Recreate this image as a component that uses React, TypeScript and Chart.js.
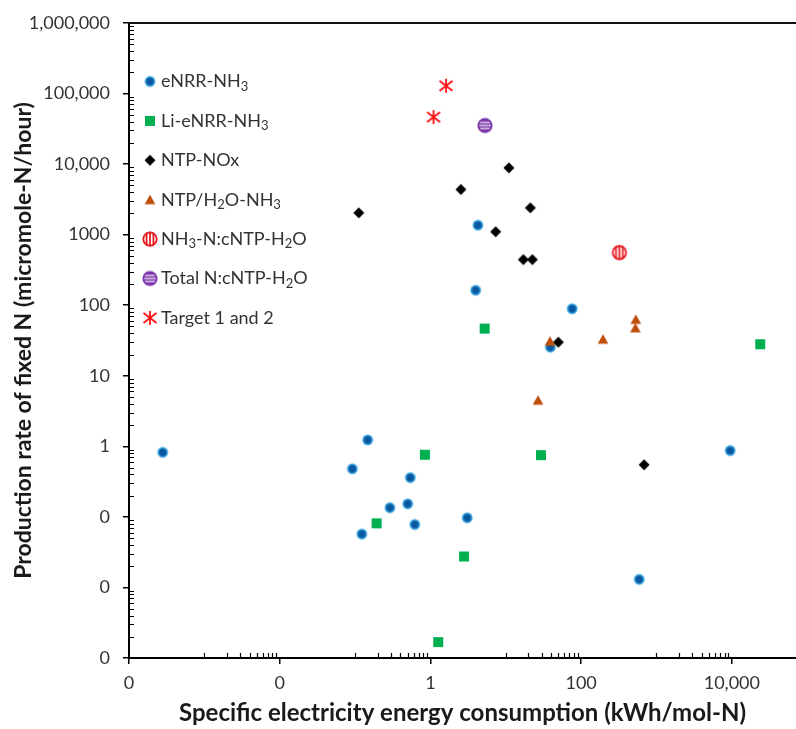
import React, { useEffect, useRef } from 'react';
import { Chart, registerables } from 'chart.js';

Chart.register(...registerables);

// ---------- axis ticks ----------
const xTickValues = [1e-4, 1e-2, 1, 100, 1e4];
const xTickLabels = ['0', '0', '1', '100', '10,000'];
const yTickValues = [1e-3, 1e-2, 1e-1, 1, 10, 100, 1000, 1e4, 1e5, 1e6];
const yTickLabels = ['0', '0', '0', '1', '10', '100', '1000', '10,000', '100,000', '1,000,000'];
const xMinorDecades = [-3, -1, 1, 3];
const yMinorDecades = [-3, -2, -1, 0, 1, 2, 3, 4, 5];

const xTitle = 'Specific electricity energy consumption (kWh/mol-N)';
const yTitle = 'Production rate of fixed N (micromole-N/hour)';

// ---------- series ----------
const seriesNames = [
  'eNRR-NH₃',
  'Li-eNRR-NH₃',
  'NTP-NOx',
  'NTP/H₂O-NH₃',
  'NH₃-N:cNTP-H₂O',
  'Total N:cNTP-H₂O',
  'Target 1 and 2',
];

const eNRRx = [0.00028, 0.147, 0.092, 0.54, 0.29, 0.5, 0.123, 0.62, 3.08, 4.27, 3.98, 76, 39, 9500, 590];
const eNRRy = [0.82, 1.23, 0.48, 0.36, 0.135, 0.153, 0.057, 0.078, 0.097, 1360, 163, 89, 25.4, 0.87, 0.013];

const liX = [0.845, 0.193, 2.79, 1.27, 5.24, 29.3, 23800];
const liY = [0.76, 0.081, 0.0275, 0.00168, 46.6, 0.75, 28];

const noxX = [0.112, 2.54, 11.0, 7.34, 21.2, 17.1, 22.5, 49.8, 684];
const noxY = [2040, 4370, 8850, 1100, 2400, 443, 443, 29.9, 0.548];

const h2oX = [38.6, 195, 531, 525, 26.8];
const h2oY = [30.9, 33, 63, 47.7, 4.5];

const nh3X = [322];
const nh3Y = [557];

const totX = [5.29];
const totY = [35300];

const tgtX = [1.61, 1.1];
const tgtY = [128800, 46400];

const seriesX = [eNRRx, liX, noxX, h2oX, nh3X, totX, tgtX];
const seriesY = [eNRRy, liY, noxY, h2oY, nh3Y, totY, tgtY];
const markerKinds = ['circle', 'square', 'diamond', 'triangle', 'vstripe', 'hstripe', 'asterisk'];

const FONT = "Lato, 'Open Sans', sans-serif";

function makeMarker(kind: string): HTMLCanvasElement {
  const s = 22;
  const c = s / 2;
  const cv = document.createElement('canvas');
  cv.width = s;
  cv.height = s;
  const ctx = cv.getContext('2d')!;
  if (kind === 'circle') {
    ctx.fillStyle = '#3BA4DE';
    ctx.beginPath();
    ctx.arc(c, c, 5.4, 0, Math.PI * 2);
    ctx.fill();
    ctx.fillStyle = '#0A58A0';
    ctx.beginPath();
    ctx.arc(c, c, 3.7, 0, Math.PI * 2);
    ctx.fill();
  } else if (kind === 'square') {
    ctx.fillStyle = '#00B050';
    ctx.fillRect(c - 5, c - 5, 10, 10);
  } else if (kind === 'diamond') {
    ctx.fillStyle = '#000';
    ctx.beginPath();
    ctx.moveTo(c, c - 5.5);
    ctx.lineTo(c + 5.5, c);
    ctx.lineTo(c, c + 5.5);
    ctx.lineTo(c - 5.5, c);
    ctx.closePath();
    ctx.fill();
  } else if (kind === 'triangle') {
    ctx.fillStyle = '#BF4E0C';
    ctx.beginPath();
    ctx.moveTo(c, c - 5);
    ctx.lineTo(c + 5.3, c + 4.5);
    ctx.lineTo(c - 5.3, c + 4.5);
    ctx.closePath();
    ctx.fill();
  } else if (kind === 'vstripe') {
    const r = 7.6;
    ctx.save();
    ctx.beginPath();
    ctx.arc(c, c, r, 0, Math.PI * 2);
    ctx.clip();
    ctx.fillStyle = '#fff';
    ctx.fillRect(0, 0, s, s);
    ctx.strokeStyle = '#E5141B';
    ctx.lineWidth = 1.7;
    for (const dx of [-3.4, 0, 3.4]) {
      ctx.beginPath();
      ctx.moveTo(c + dx, 0);
      ctx.lineTo(c + dx, s);
      ctx.stroke();
    }
    ctx.restore();
    ctx.strokeStyle = '#E5141B';
    ctx.lineWidth = 1.8;
    ctx.beginPath();
    ctx.arc(c, c, r - 0.9, 0, Math.PI * 2);
    ctx.stroke();
  } else if (kind === 'hstripe') {
    const r = 7.6;
    ctx.fillStyle = '#7B35AA';
    ctx.beginPath();
    ctx.arc(c, c, r, 0, Math.PI * 2);
    ctx.fill();
    ctx.save();
    ctx.beginPath();
    ctx.arc(c, c, r - 1.8, 0, Math.PI * 2);
    ctx.clip();
    ctx.strokeStyle = '#E3D3EE';
    ctx.lineWidth = 1.3;
    for (const dy of [-3, 0, 3]) {
      ctx.beginPath();
      ctx.moveTo(0, c + dy);
      ctx.lineTo(s, c + dy);
      ctx.stroke();
    }
    ctx.restore();
  } else if (kind === 'asterisk') {
    ctx.strokeStyle = '#FF1010';
    ctx.lineWidth = 1.8;
    ctx.beginPath();
    ctx.moveTo(c, c - 7);
    ctx.lineTo(c, c + 7);
    ctx.moveTo(c - 6.5, c - 5);
    ctx.lineTo(c + 6.5, c + 5);
    ctx.moveTo(c - 6.5, c + 5);
    ctx.lineTo(c + 6.5, c - 5);
    ctx.stroke();
  }
  return cv;
}

const SUBS: Record<string, string> = {
  '₀': '0', '₁': '1', '₂': '2', '₃': '3', '₄': '4', '₅': '5', '₆': '6', '₇': '7', '₈': '8', '₉': '9',
};

function drawRich(ctx: CanvasRenderingContext2D, text: string, x: number, y: number) {
  let cx = x;
  let run = '';
  let runSub = false;
  const flush = () => {
    if (!run) return;
    if (runSub) {
      ctx.font = `13px ${FONT}`;
      ctx.fillText(run, cx, y + 5);
    } else {
      ctx.font = `18px ${FONT}`;
      ctx.fillText(run, cx, y);
    }
    cx += ctx.measureText(run).width;
    run = '';
  };
  for (const ch of text) {
    const isSub = ch in SUBS;
    if (isSub !== runSub) {
      flush();
      runSub = isSub;
    }
    run += isSub ? SUBS[ch] : ch;
  }
  flush();
}

function tickIndex(values: number[], v: number) {
  return values.findIndex((t) => Math.abs(Math.log10(t) - Math.log10(v)) < 1e-6);
}

export default function App() {
  const ref = useRef<HTMLCanvasElement>(null);

  useEffect(() => {
    if (!ref.current) return;
    const markers = markerKinds.map(makeMarker);

    const decor = {
      id: 'decor',
      afterDraw(chart: any) {
        const { ctx, chartArea } = chart;
        const xs = chart.scales.x;
        const ys = chart.scales.y;
        ctx.save();
        // top border
        ctx.strokeStyle = '#111';
        ctx.lineWidth = 2;
        ctx.beginPath();
        ctx.moveTo(chartArea.left - 1, chartArea.top);
        ctx.lineTo(chartArea.right, chartArea.top);
        ctx.stroke();
        // minor ticks
        ctx.lineWidth = 1.2;
        ctx.strokeStyle = '#000';
        ctx.beginPath();
        for (const e of xMinorDecades) {
          for (let k = 1; k <= 9; k++) {
            const px = Math.round(xs.getPixelForValue(k * Math.pow(10, e))) + 0.5;
            ctx.moveTo(px, chartArea.bottom);
            ctx.lineTo(px, chartArea.bottom - 5);
          }
        }
        for (const e of yMinorDecades) {
          for (let k = 2; k <= 9; k++) {
            const py = Math.round(ys.getPixelForValue(k * Math.pow(10, e))) + 0.5;
            ctx.moveTo(chartArea.left, py);
            ctx.lineTo(chartArea.left + 5, py);
          }
        }
        ctx.stroke();
        // legend
        ctx.fillStyle = '#333';
        ctx.textBaseline = 'middle';
        ctx.textAlign = 'left';
        seriesNames.forEach((name, i) => {
          const y = 81.5 + i * 39.4;
          const m = markers[i];
          ctx.drawImage(m, 150 - m.width / 2, y - m.height / 2);
          drawRich(ctx, name, 161, y);
        });
        ctx.restore();
      },
    };

    const datasets = seriesNames.map((name, i) => ({
      label: name,
      data: seriesX[i].map((x, j) => ({ x, y: seriesY[i][j] })),
      pointStyle: markers[i] as any,
      pointRadius: 6,
      order: 20 - i,
      clip: 12,
    }));

    const tickFont = { family: FONT, size: 18 };

    const chart = new Chart(ref.current, {
      type: 'scatter',
      data: { datasets },
      options: {
        responsive: false,
        animation: false,
        devicePixelRatio: 1,
        layout: { autoPadding: false, padding: { top: 23, right: 0, left: 0, bottom: 0 } },
        plugins: { legend: { display: false }, tooltip: { enabled: false } },
        scales: {
          x: {
            type: 'logarithmic',
            min: 1e-4,
            max: 71000,
            afterFit: (s: any) => {
              s.height = 71;
              s.paddingLeft = 0;
              s.paddingRight = 0;
            },
            afterBuildTicks: (s: any) => {
              s.ticks = xTickValues.map((v) => ({ value: v }));
            },
            ticks: {
              autoSkip: false,
              maxRotation: 0,
              color: '#333',
              font: tickFont,
              padding: 8,
              callback: (v: any) => xTickLabels[tickIndex(xTickValues, Number(v))] ?? '',
            },
            grid: { drawOnChartArea: false, drawTicks: true, tickLength: 6, color: '#000', lineWidth: 1.5 },
            border: { color: '#000', width: 2 },
            title: {
              display: true,
              text: xTitle,
              color: '#1a1a1a',
              font: { family: FONT, size: 24, weight: 'bold' },
              padding: { top: 0, bottom: 1 },
            },
          },
          y: {
            type: 'logarithmic',
            min: 1e-3,
            max: 1e6,
            afterFit: (s: any) => {
              s.width = 129;
              s.paddingTop = 0;
              s.paddingBottom = 0;
            },
            afterBuildTicks: (s: any) => {
              s.ticks = yTickValues.map((v) => ({ value: v }));
            },
            ticks: {
              autoSkip: false,
              color: '#333',
              font: tickFont,
              padding: 13,
              callback: (v: any) => yTickLabels[tickIndex(yTickValues, Number(v))] ?? '',
            },
            grid: { drawOnChartArea: false, drawTicks: true, tickLength: 6, color: '#000', lineWidth: 1.5 },
            border: { color: '#000', width: 2 },
            title: {
              display: true,
              text: yTitle,
              color: '#1a1a1a',
              font: { family: FONT, size: 23, weight: 'bold' },
              padding: { top: 10, bottom: 0 },
            },
          },
        },
      },
      plugins: [decor],
    } as any);

    return () => chart.destroy();
  }, []);

  return (
    <div style={{ position: 'absolute', left: 0, top: 0, width: 796, height: 729, background: '#fff' }}>
      <canvas ref={ref} width={796} height={729} style={{ display: 'block' }} />
    </div>
  );
}
